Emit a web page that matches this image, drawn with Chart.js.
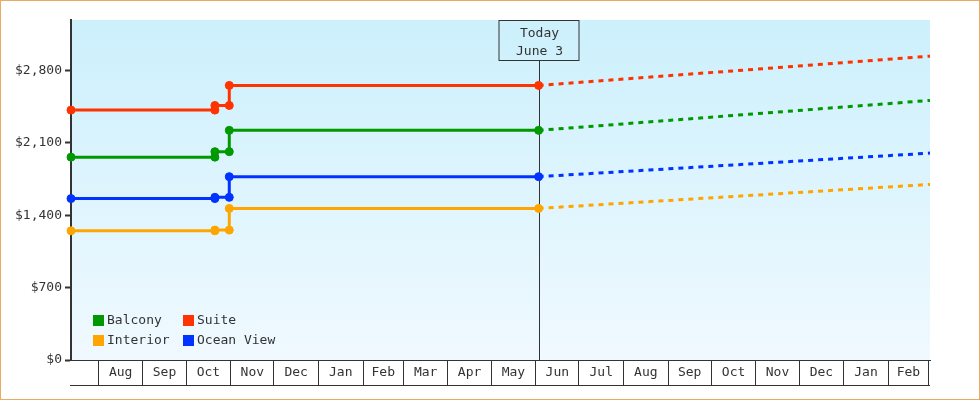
<!DOCTYPE html>
<html><head><meta charset="utf-8">
<script src="https://cdn.jsdelivr.net/npm/chart.js@4.4.1/dist/chart.umd.min.js"></script>
<style>html,body{margin:0;padding:0;background:#fff}#wrap{width:980px;height:400px;position:relative}canvas{display:block}</style>
</head><body><div id="wrap"><canvas id="c" width="980" height="400"></canvas></div>
<script>
// ---- data ----
const categories = ['Balcony', 'Suite', 'Interior', 'Ocean View'];
const seriesColors = ['#009900', '#ff3300', '#ffa500', '#0033ff'];
const priceDates = ['2021-07-13', '2021-10-21', '2021-10-21', '2021-10-31', '2021-10-31', '2022-06-03', '2023-03-02'];
const balcony   = [1963, 1963, 2016, 2016, 2222, 2222, 2512];
const suite     = [2418, 2418, 2463, 2463, 2657, 2657, 2940];
const interior  = [1250, 1250, 1257, 1257, 1467, 1467, 1699];
const oceanView = [1562, 1562, 1574, 1574, 1774, 1774, 2002];
const todayDate = '2022-06-03';
const todayLabel = ['Today', 'June 3'];
const monthStarts = ['2021-08-01','2021-09-01','2021-10-01','2021-11-01','2021-12-01','2022-01-01','2022-02-01','2022-03-01','2022-04-01','2022-05-01','2022-06-01','2022-07-01','2022-08-01','2022-09-01','2022-10-01','2022-11-01','2022-12-01','2023-01-01','2023-02-01','2023-03-01'];
const monthLabels = ['Aug','Sep','Oct','Nov','Dec','Jan','Feb','Mar','Apr','May','Jun','Jul','Aug','Sep','Oct','Nov','Dec','Jan','Feb'];
const yTicks = [0, 700, 1400, 2100, 2800];
const axisStart = '2021-07-13';
const axisEnd = '2023-03-02';
const yMax = 3290;

// ---- helpers ----
const dayNum = s => Date.parse(s) / 86400000;
const today = dayNum(todayDate);
const FONT = '13px "DejaVu Sans Mono", monospace';
const INK = '#333333';
const allSeries = [balcony, suite, interior, oceanView];

const datasets = categories.map((name, i) => ({
  label: name,
  data: priceDates.map((d, k) => ({ x: dayNum(d), y: allSeries[i][k] })),
  borderColor: seriesColors[i],
  backgroundColor: seriesColors[i],
  borderWidth: 3,
  fill: false,
  tension: 0,
  clip: false,
  pointStyle: 'circle',
  pointRadius: ctx => (ctx.raw && ctx.raw.x > today) ? 0 : 4,
  pointBorderWidth: 1,
  pointBorderColor: seriesColors[i],
  pointBackgroundColor: seriesColors[i],
  segment: { borderDash: ctx => ctx.p0.parsed.x >= today ? [5, 5] : undefined }
}));

const decorPlugin = {
  id: 'decor',
  beforeDraw(chart) {
    const { ctx, chartArea: a } = chart;
    ctx.save();
    ctx.fillStyle = '#ffffff';
    ctx.fillRect(0, 0, chart.width, chart.height);
    const g = ctx.createLinearGradient(0, a.top, 0, a.bottom);
    g.addColorStop(0, '#ccf0fc');
    g.addColorStop(1, '#f0f9ff');
    ctx.fillStyle = g;
    ctx.fillRect(a.left, a.top, a.right - a.left, a.bottom - a.top);
    ctx.restore();
  },
  beforeDatasetsDraw(chart) {
    const { ctx, chartArea: a, scales: { x } } = chart;
    const tx = Math.round(x.getPixelForValue(today)) + 0.5;
    ctx.save();
    // today box
    const bw = 80, bh = 40;
    const bx = Math.round(tx - bw / 2) - 1, by = a.top + 0.5;
    ctx.strokeStyle = INK;
    ctx.lineWidth = 1;
    ctx.strokeRect(bx, by, bw, bh);
    ctx.beginPath();
    ctx.moveTo(tx, by + bh);
    ctx.lineTo(tx, a.bottom);
    ctx.stroke();
    ctx.fillStyle = INK;
    ctx.font = FONT;
    ctx.textAlign = 'center';
    ctx.textBaseline = 'middle';
    ctx.fillText(todayLabel[0], tx, by + 13);
    ctx.fillText(todayLabel[1], tx, by + 31);
    ctx.restore();
  },
  afterDraw(chart) {
    const { ctx, chartArea: a, scales: { x } } = chart;
    ctx.save();
    // month labels in cells
    ctx.fillStyle = INK;
    ctx.font = FONT;
    ctx.textAlign = 'center';
    ctx.textBaseline = 'middle';
    for (let i = 0; i < monthLabels.length; i++) {
      const p0 = x.getPixelForValue(dayNum(monthStarts[i]));
      const p1 = x.getPixelForValue(dayNum(monthStarts[i + 1]));
      ctx.fillText(monthLabels[i], (p0 + p1) / 2, a.bottom + 13);
    }
    // bottom line of the cells
    ctx.strokeStyle = INK;
    ctx.lineWidth = 1;
    ctx.beginPath();
    ctx.moveTo(a.left - 1, a.bottom + 25.5);
    ctx.lineTo(a.right, a.bottom + 25.5);
    ctx.stroke();
    // legend
    const lx = a.left + 22, ly = a.bottom - 45;
    ctx.textAlign = 'left';
    categories.forEach((name, i) => {
      const col = i % 2, row = Math.floor(i / 2);
      const sx = lx + col * 90, sy = ly + row * 20;
      ctx.fillStyle = seriesColors[i];
      ctx.fillRect(sx, sy, 11, 11);
      ctx.fillStyle = INK;
      ctx.fillText(name, sx + 14, sy + 6);
    });
    // outer frame
    ctx.strokeStyle = '#e9aa66';
    ctx.strokeRect(0.5, 0.5, chart.width - 1, chart.height - 1);
    ctx.restore();
  }
};

new Chart(document.getElementById('c'), {
  type: 'line',
  data: { datasets },
  plugins: [decorPlugin],
  options: {
    responsive: false,
    animation: false,
    events: [],
    layout: { padding: { top: 20, right: 50, left: 0, bottom: 0 } },
    plugins: { legend: { display: false }, tooltip: { enabled: false } },
    scales: {
      x: {
        type: 'linear',
        min: dayNum(axisStart),
        max: dayNum(axisEnd),
        afterBuildTicks: s => { s.ticks = monthStarts.map(d => ({ value: dayNum(d) })); },
        afterFit: s => { s.height = 40; },
        ticks: { display: false },
        grid: { display: true, drawOnChartArea: false, drawTicks: true, tickLength: 25, tickColor: INK, tickWidth: 1, color: INK },
        border: { display: true, color: INK, width: 1 }
      },
      y: {
        type: 'linear',
        min: 0,
        max: yMax,
        afterBuildTicks: s => { s.ticks = yTicks.map(v => ({ value: v })); },
        afterFit: s => { s.width = 71; },
        ticks: {
          padding: 3,
          color: INK,
          font: { family: '"DejaVu Sans Mono", monospace', size: 13 },
          callback: v => '$' + v.toLocaleString('en-US')
        },
        grid: { display: true, drawOnChartArea: false, drawTicks: true, tickLength: 6, tickColor: INK, tickWidth: 2, color: INK },
        border: { display: true, color: INK, width: 2 }
      }
    }
  }
});
</script>
</body></html>
